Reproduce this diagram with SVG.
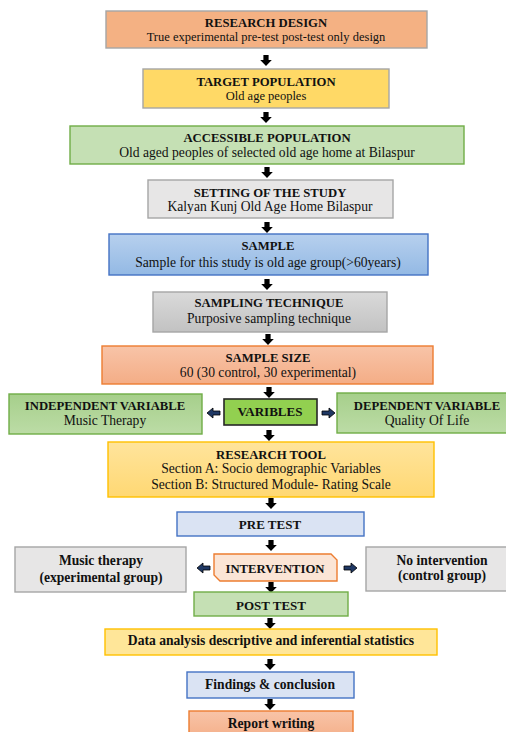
<svg xmlns="http://www.w3.org/2000/svg" width="506" height="732" viewBox="0 0 506 732">
<defs>
<style>
text{font-family:"Liberation Serif","Times New Roman",serif;font-size:13.6px;fill:#111;text-anchor:middle}
.b{font-weight:bold}
.t{font-weight:bold;font-size:12.7px}
.s{font-size:12.5px}
.m{font-weight:bold;font-size:13px}
.box{stroke-width:1.4}
.grey{stroke:#A5A5A5}
.green{stroke:#70AD47}
.blue{stroke:#4472C4}
.orange{stroke:#ED7D31}
.gold{stroke:#FFC000}
.arr{fill:#000}
.sarr{fill:#1F3864;stroke:#000;stroke-width:0.8}
</style>
<linearGradient id="gBlue" x1="0" y1="0" x2="0" y2="1"><stop offset="0" stop-color="#B7D0EE"/><stop offset="1" stop-color="#93B9E4"/></linearGradient>
<linearGradient id="gGrey" x1="0" y1="0" x2="0" y2="1"><stop offset="0" stop-color="#DADADA"/><stop offset="1" stop-color="#C2C2C2"/></linearGradient>
<linearGradient id="gSalmon" x1="0" y1="0" x2="0" y2="1"><stop offset="0" stop-color="#F8C4A8"/><stop offset="1" stop-color="#F4AD86"/></linearGradient>
<linearGradient id="gGreen" x1="0" y1="0" x2="0" y2="1"><stop offset="0" stop-color="#A6CF8B"/><stop offset="1" stop-color="#BCDCA6"/></linearGradient>
<linearGradient id="gGold" x1="0" y1="0" x2="0" y2="1"><stop offset="0" stop-color="#FFE49C"/><stop offset="1" stop-color="#FFD873"/></linearGradient>
<path id="down" d="M-2.6 0h5.2v5h3.2l-5.8 6l-5.8-6h3.2z"/>
<path id="left" d="M0 5l6-5v3h7v4h-7v3z"/>
<path id="right" d="M13 5l-6-5v3h-7v4h7v3z"/>
</defs>

<g id="connectors">
<use href="#down" class="arr" x="266" y="55"/>
<use href="#down" class="arr" x="266" y="112"/>
<use href="#down" class="arr" x="267" y="167"/>
<use href="#down" class="arr" x="267" y="222"/>
<use href="#down" class="arr" x="267" y="279"/>
<use href="#down" class="arr" x="268" y="334"/>
<use href="#down" class="arr" x="269" y="387"/>
<use href="#down" class="arr" x="269" y="430"/>
<use href="#down" class="arr" x="271" y="498"/>
<use href="#down" class="arr" x="271" y="540"/>
<use href="#down" class="arr" x="271" y="582"/>
<use href="#down" class="arr" x="270" y="618"/>
<use href="#down" class="arr" x="270" y="659"/>
<use href="#down" class="arr" x="270" y="699"/>
<use href="#left" class="sarr" x="207" y="408"/>
<use href="#right" class="sarr" x="322" y="408"/>
<use href="#left" class="sarr" x="197" y="563"/>
<use href="#right" class="sarr" x="344" y="563"/>
</g>

<g id="research-design">
<rect class="box grey" x="106" y="11" width="321" height="37" fill="#F4B183"/>
<text class="t" x="266" y="27">RESEARCH DESIGN</text>
<text class="s" x="266" y="41">True experimental pre-test post-test only design</text>
</g>

<g id="target-population">
<rect class="box grey" x="143" y="69" width="246" height="39" fill="#FFD966"/>
<text class="t" x="266" y="86">TARGET POPULATION</text>
<text class="s" x="266" y="100">Old age peoples</text>
</g>

<g id="accessible-population">
<rect class="box green" x="70" y="126" width="394" height="38" fill="#C5E0B4"/>
<text class="t" x="267" y="142">ACCESSIBLE POPULATION</text>
<text x="267" y="157">Old aged peoples of selected old age home at Bilaspur</text>
</g>

<g id="setting">
<rect class="box grey" x="148" y="180" width="245" height="38" fill="#E7E6E6"/>
<text class="t" x="270" y="197">SETTING OF THE STUDY</text>
<text x="270" y="211">Kalyan Kunj Old Age Home Bilaspur</text>
</g>

<g id="sample">
<rect class="box blue" x="109" y="234" width="319" height="41" fill="url(#gBlue)"/>
<text class="t" x="268" y="250">SAMPLE</text>
<text x="268" y="267">Sample for this study is old age group(&gt;60years)</text>
</g>

<g id="sampling-technique">
<rect class="box grey" x="153" y="292" width="234" height="40" fill="url(#gGrey)"/>
<text class="t" x="269" y="307">SAMPLING TECHNIQUE</text>
<text x="269" y="323">Purposive sampling technique</text>
</g>

<g id="sample-size">
<rect class="box orange" x="102" y="346" width="331" height="38" fill="url(#gSalmon)"/>
<text class="t" x="268" y="362">SAMPLE SIZE</text>
<text x="268" y="377">60 (30 control, 30 experimental)</text>
</g>

<g id="independent-variable">
<rect class="box green" x="9" y="394" width="193" height="40" fill="url(#gGreen)"/>
<text class="t" x="105" y="410">INDEPENDENT VARIABLE</text>
<text x="105" y="425">Music Therapy</text>
</g>

<g id="variables">
<rect x="224" y="399" width="93" height="26" fill="#92D050" stroke="#262626" stroke-width="1.6"/>
<text class="m" x="270" y="416">VARIBLES</text>
</g>

<g id="dependent-variable">
<rect class="box green" x="337" y="393" width="182" height="40" fill="url(#gGreen)"/>
<text class="t" x="427" y="410">DEPENDENT VARIABLE</text>
<text x="427" y="425">Quality Of Life</text>
</g>

<g id="research-tool">
<rect class="box gold" x="108" y="442" width="326" height="55" fill="url(#gGold)"/>
<text class="t" x="271" y="459">RESEARCH TOOL</text>
<text x="271" y="473">Section A: Socio demographic Variables</text>
<text x="271" y="489">Section B: Structured Module- Rating Scale</text>
</g>

<g id="pre-test">
<rect class="box blue" x="177" y="512" width="187" height="24" fill="#DAE3F3"/>
<text class="m" x="270" y="529">PRE TEST</text>
</g>

<g id="music-therapy-group">
<rect class="box grey" x="15" y="547" width="171" height="45" fill="#E7E6E6"/>
<text class="b" x="101" y="565">Music therapy</text>
<text class="b" x="101" y="582">(experimental group)</text>
</g>

<g id="intervention">
<path class="box orange" d="M214 554H331L337 560V581H220L214 575Z" fill="#FBE5D6"/>
<text class="t" x="275" y="573">INTERVENTION</text>
</g>

<g id="no-intervention">
<rect class="box grey" x="366" y="547" width="152" height="44" fill="#E7E6E6"/>
<text class="b" x="442" y="565">No intervention</text>
<text class="b" x="442" y="580">(control group)</text>
</g>

<g id="post-test">
<rect class="box green" x="194" y="592" width="154" height="24" fill="#C5E0B4"/>
<text class="m" x="271" y="610">POST TEST</text>
</g>

<g id="data-analysis">
<rect class="box gold" x="105" y="629" width="332" height="26" fill="#FFE699"/>
<text class="b" x="271" y="645">Data analysis descriptive and inferential statistics</text>
</g>

<g id="findings">
<rect class="box blue" x="187" y="672" width="167" height="26" fill="#DAE3F3"/>
<text class="b" x="270" y="689">Findings &amp; conclusion</text>
</g>

<g id="report-writing">
<rect class="box orange" x="189" y="711" width="164" height="30" fill="url(#gSalmon)"/>
<text class="b" x="271" y="728">Report writing</text>
</g>
</svg>
